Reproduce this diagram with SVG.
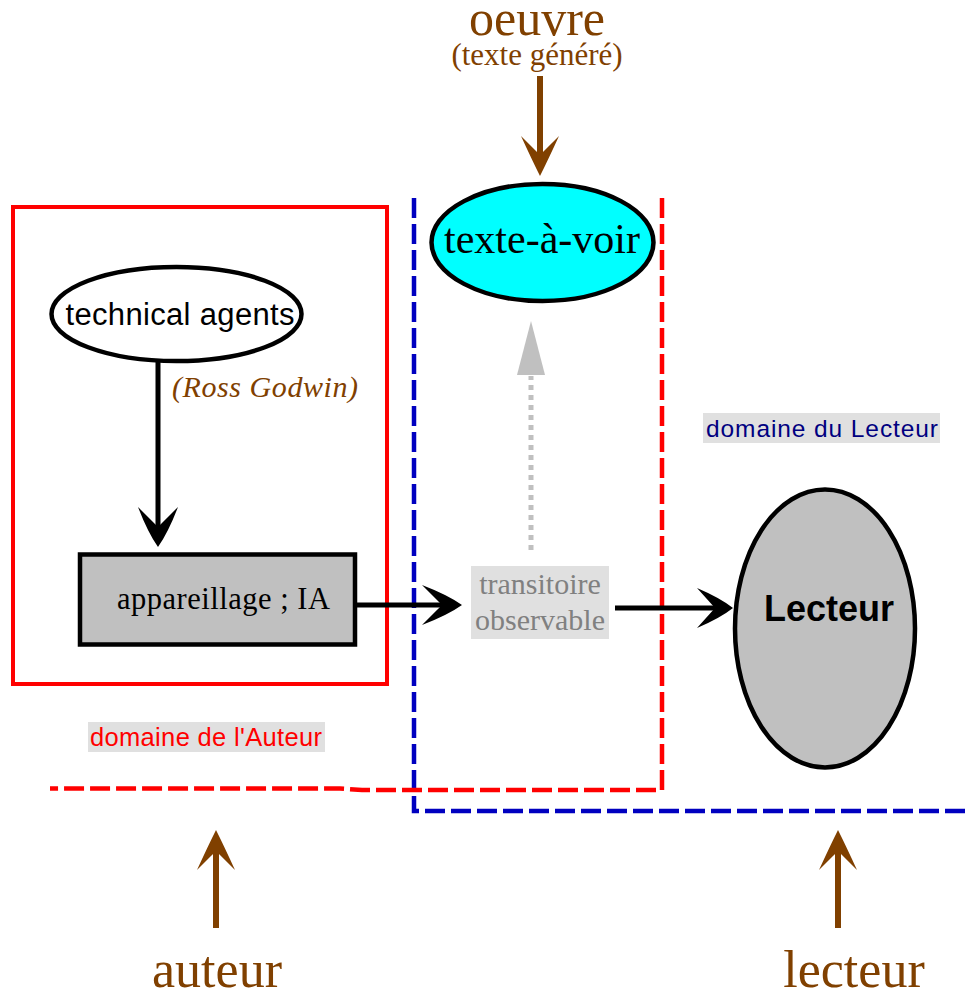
<svg xmlns="http://www.w3.org/2000/svg" width="969" height="994" viewBox="0 0 969 994">
  <style>
    .serif { font-family: "Liberation Serif", "Times New Roman", serif; }
    .sans { font-family: "Liberation Sans", Arial, sans-serif; }
    .brown { fill: #804000; }
    .shaft { fill: none; stroke: #000; stroke-width: 5; }
    .bshaft { fill: none; stroke: #804000; stroke-width: 6; }
    .node { stroke: #000; stroke-width: 4.5; }
    .dash-red { fill: none; stroke: #ff0000; stroke-width: 4.5; stroke-dasharray: 20 6; }
    .dash-blue { fill: none; stroke: #0000c0; stroke-width: 4.5; stroke-dasharray: 20 6; }
    .tag { fill: #e0e0e0; }
  </style>
  <defs>
    <!-- barbed arrowhead, tip at origin, pointing along +x -->
    <path id="barb" d="M0,0 Q-14,-10 -40,-20 Q-28,-8 -20,0 Q-28,8 -40,20 Q-14,10 0,0 Z"/>
    <path id="barb-b" d="M0,0 Q-16,-8 -40,-19 Q-28,-7 -21,0 Q-28,7 -40,19 Q-16,8 0,0 Z"/>
  </defs>
  <rect width="969" height="994" fill="#fff"/>

  <!-- domain boundaries -->
  <g id="domains">
    <rect x="13" y="207" width="374" height="477" fill="none" stroke="#ff0000" stroke-width="4"/>
    <path class="dash-blue" d="M414,198 L414,811 L969,811"/>
    <path class="dash-red" d="M662,198 L662,790 L362,790 L340,788.5 L50,788.5"/>
  </g>

  <!-- domain labels -->
  <g id="label-auteur-domain">
    <rect class="tag" x="88" y="722" width="237" height="30"/>
    <text class="sans" x="90" y="746" font-size="25.5" fill="#ff0000" textLength="232">domaine de l'Auteur</text>
  </g>
  <g id="label-lecteur-domain">
    <rect class="tag" x="703" y="413" width="237" height="30"/>
    <text class="sans" x="706" y="437" font-size="24.5" fill="#000080" textLength="232">domaine du Lecteur</text>
  </g>

  <!-- connectors -->
  <g id="connectors">
    <!-- technical agents -> appareillage -->
    <line class="shaft" x1="158" y1="361" x2="158" y2="530"/>
    <use href="#barb" fill="#000" transform="translate(158,547) rotate(90)"/>
    <!-- appareillage -> transitoire -->
    <line class="shaft" x1="357" y1="605" x2="445" y2="605"/>
    <use href="#barb" fill="#000" transform="translate(462,605)"/>
    <!-- transitoire -> Lecteur -->
    <line class="shaft" x1="615" y1="608" x2="716" y2="608"/>
    <use href="#barb" fill="#000" transform="translate(733,608) scale(0.9,1)"/>
    <!-- transitoire -> texte-à-voir (dotted) -->
    <line x1="531" y1="550" x2="531" y2="376" stroke="#c0c0c0" stroke-width="5" stroke-dasharray="5 5"/>
    <path d="M531,321 L545,375 L517,375 Z" fill="#c0c0c0"/>
    <!-- oeuvre -> texte-à-voir -->
    <line class="bshaft" x1="540" y1="76" x2="540" y2="156"/>
    <use href="#barb-b" fill="#804000" transform="translate(540,176) rotate(90)"/>
    <!-- auteur / lecteur pointers -->
    <line class="bshaft" x1="216" y1="928" x2="216" y2="850"/>
    <use href="#barb-b" fill="#804000" transform="translate(216,830) rotate(-90)"/>
    <line class="bshaft" x1="838" y1="928" x2="838" y2="850"/>
    <use href="#barb-b" fill="#804000" transform="translate(838,830) rotate(-90)"/>
  </g>

  <!-- nodes -->
  <g id="technical-agents">
    <ellipse class="node" cx="176.5" cy="314" rx="125" ry="47" fill="#fff"/>
    <text class="sans" x="180" y="325" font-size="31" text-anchor="middle" textLength="229">technical agents</text>
  </g>
  <g id="ross-godwin">
    <text class="serif brown" x="172" y="397" font-size="30" font-style="italic" textLength="186">(Ross Godwin)</text>
  </g>
  <g id="appareillage">
    <rect class="node" x="80" y="554.5" width="275" height="90" fill="#c0c0c0"/>
    <text class="serif" x="117" y="609" font-size="30.5" textLength="213">appareillage ; IA</text>
  </g>
  <g id="transitoire">
    <rect class="tag" x="471" y="566" width="138" height="73"/>
    <text class="serif" x="540" y="594" font-size="30" fill="#808080" text-anchor="middle">transitoire</text>
    <text class="serif" x="540" y="630" font-size="30" fill="#808080" text-anchor="middle">observable</text>
  </g>
  <g id="texte-a-voir">
    <ellipse class="node" cx="542.5" cy="242.5" rx="111" ry="58.5" fill="#00ffff"/>
    <text class="serif" x="542" y="253" font-size="42" text-anchor="middle">texte-à-voir</text>
  </g>
  <g id="lecteur-node">
    <ellipse class="node" cx="825" cy="628.5" rx="90" ry="139" fill="#c0c0c0"/>
    <text class="sans" x="829" y="621" font-size="36" font-weight="bold" text-anchor="middle">Lecteur</text>
  </g>
  <g id="oeuvre">
    <text class="serif brown" x="537" y="35" font-size="50" text-anchor="middle">oeuvre</text>
    <text class="serif brown" x="537" y="65" font-size="31" text-anchor="middle">(texte généré)</text>
  </g>
  <g id="auteur">
    <text class="serif brown" x="217" y="987" font-size="52" text-anchor="middle">auteur</text>
  </g>
  <g id="lecteur">
    <text class="serif brown" x="854" y="987" font-size="52" text-anchor="middle">lecteur</text>
  </g>
</svg>
